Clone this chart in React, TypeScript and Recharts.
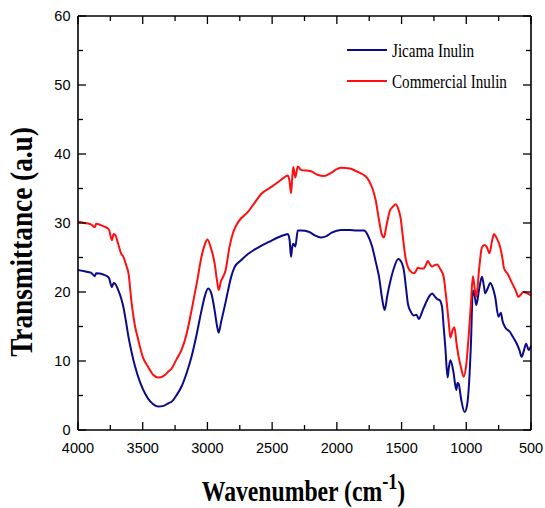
import { LineChart, Line, XAxis, YAxis } from "recharts";

// wavenumber (cm-1) and transmittance readings
const jicamaWn = [
  4000, 3950, 3900, 3870, 3860, 3800, 3777, 3760, 3738, 3725, 3713, 3690, 3665, 3649, 3630, 3610,
  3585, 3559, 3520, 3482, 3440, 3400, 3380, 3340, 3300, 3277, 3240, 3200, 3160, 3123, 3085, 3046,
  3020, 2995, 2970, 2944, 2925, 2913, 2895, 2879, 2860, 2841, 2815, 2790, 2740, 2687, 2640, 2585,
  2520, 2456, 2400, 2379, 2365, 2354, 2345, 2336, 2321, 2302, 2277, 2213, 2170, 2123, 2080, 2040,
  1969, 1900, 1850, 1790, 1760, 1726, 1700, 1674, 1650, 1631, 1610, 1585, 1555, 1526, 1500, 1482,
  1465, 1451, 1430, 1405, 1385, 1367, 1340, 1315, 1285, 1264, 1245, 1226, 1205, 1187, 1175, 1162,
  1144, 1135, 1123, 1100, 1077, 1068, 1059, 1040, 1013, 995, 982, 965, 949, 935, 923, 900, 879,
  865, 854, 835, 815, 795, 777, 751, 733, 720, 700, 662, 640, 610, 590, 572, 555, 538, 518, 500,
];
const jicamaT = [
  23.2, 23.0, 22.8, 22.3, 22.7, 22.5, 22.3, 22.0, 20.7, 21.3, 21.2, 20.3, 19.0, 17.8, 15.8, 13.5,
  11.2, 9.2, 6.9, 5.3, 4.1, 3.5, 3.4, 3.5, 3.9, 4.1, 5.0, 6.3, 8.3, 10.6, 13.7, 17.3,
  19.4, 20.5, 19.8, 17.3, 15.0, 14.1, 15.6, 16.9, 18.5, 20.2, 22.3, 23.6, 24.6, 25.5, 26.1, 26.7,
  27.3, 27.9, 28.3, 28.4, 27.5, 25.1, 26.5, 27.0, 26.6, 28.9, 28.9, 28.7, 28.2, 27.9, 28.1, 28.6,
  29.0, 29.0, 28.9, 28.9, 28.2, 26.5, 24.4, 22.2, 19.0, 17.4, 19.5, 21.7, 23.7, 24.8, 24.3, 23.1,
  20.5, 18.3, 17.2, 16.6, 16.7, 16.1, 17.2, 18.3, 19.4, 19.8, 19.4, 19.0, 18.8, 17.8, 15.0, 12.0,
  7.6, 9.0, 10.1, 8.5, 5.8, 6.8, 6.7, 4.5, 2.6, 3.5, 5.8, 12.0, 20.2, 19.5, 18.1, 20.5, 22.2,
  21.0, 19.8, 20.5, 21.3, 20.6, 19.3, 16.4, 17.0, 15.8, 14.9, 14.2, 13.5, 12.5, 11.6, 10.6, 11.5, 12.5, 11.6, 12.2,
];

const commercialWn = [
  4000, 3950, 3900, 3870, 3860, 3800, 3777, 3760, 3738, 3725, 3713, 3690, 3665, 3649, 3630, 3610,
  3585, 3559, 3540, 3500, 3460, 3420, 3380, 3340, 3300, 3277, 3240, 3200, 3160, 3123, 3080, 3046,
  3020, 3000, 2975, 2944, 2925, 2913, 2895, 2879, 2860, 2830, 2800, 2760, 2687, 2640, 2585, 2500,
  2456, 2400, 2379, 2365, 2354, 2345, 2336, 2321, 2302, 2277, 2200, 2150, 2097, 2050, 2000, 1969,
  1900, 1850, 1815, 1780, 1751, 1725, 1700, 1675, 1655, 1636, 1620, 1590, 1565, 1546, 1525, 1508,
  1490, 1470, 1451, 1430, 1405, 1390, 1374, 1350, 1331, 1310, 1298, 1280, 1264, 1245, 1226, 1200,
  1175, 1160, 1150, 1135, 1123, 1105, 1092, 1075, 1059, 1040, 1020, 1000, 982, 965, 949, 935, 923,
  900, 879, 860, 841, 821, 800, 785, 765, 738, 720, 708, 680, 649, 620, 597, 580, 559, 530, 500,
];
const commercialT = [
  30.2, 30.0, 29.8, 29.4, 29.9, 29.5, 29.3, 29.0, 27.5, 28.4, 28.3, 27.0, 25.5, 25.1, 24.0, 22.7,
  18.3, 15.0, 13.5, 10.6, 9.2, 8.0, 7.6, 7.8, 8.5, 8.9, 10.2, 11.6, 14.0, 17.3, 21.5, 25.1,
  26.9, 27.6, 26.5, 24.1, 21.5, 20.3, 21.6, 22.2, 23.1, 26.5, 28.7, 30.2, 31.6, 32.8, 34.2, 35.3,
  35.9, 36.7, 36.9, 36.0, 34.3, 36.5, 38.1, 36.6, 38.2, 37.7, 37.5, 37.0, 36.8, 37.2, 37.8, 38.0,
  37.9, 37.5, 37.2, 36.8, 36.1, 35.0, 33.3, 30.5, 28.5, 27.9, 29.3, 31.8, 32.4, 32.7, 32.0, 30.8,
  28.0, 25.0, 23.6, 23.0, 22.7, 23.0, 23.5, 23.4, 23.4, 24.0, 24.5, 24.0, 23.7, 23.9, 24.0, 23.3,
  22.2, 20.0, 18.3, 15.5, 13.4, 14.5, 14.9, 12.5, 10.6, 9.0, 7.7, 9.5, 13.5, 18.0, 22.3, 20.5, 19.3,
  23.5, 26.5, 26.8, 26.5, 25.6, 27.5, 28.4, 27.8, 26.5, 24.8, 23.4, 22.6, 21.4, 20.3, 19.3, 19.6, 20.0, 19.8, 19.5,
];

const xTicks = [4000, 3750, 3500, 3250, 3000, 2750, 2500, 2250, 2000, 1750, 1500, 1250, 1000, 750, 500];
const yTicks = [0, 5, 10, 15, 20, 25, 30, 35, 40, 45, 50, 55, 60];

const jicamaData = jicamaWn.map((wn, i) => ({ wn, t: jicamaT[i] }));
const commercialData = commercialWn.map((wn, i) => ({ wn, t: commercialT[i] }));

const BLUE = "#0b0b8a";
const RED = "#ff1010";
const tickFont = "'Liberation Sans', Arial, sans-serif";
const serif = "'Liberation Serif', 'Times New Roman', serif";

const BottomTick = ({ x, y, payload }: any) => {
  const major = payload.value % 500 === 0;
  return (
    <g>
      <line x1={x} x2={x} y1={y} y2={y - (major ? 8 : 5)} stroke="#000" strokeWidth={1.3} />
      {major && (
        <text x={x} y={y + 23} textAnchor="middle" fontSize={14.5} fontFamily={tickFont} fill="#000">
          {payload.value}
        </text>
      )}
    </g>
  );
};

const TopTick = ({ x, y, payload }: any) => {
  const major = payload.value % 500 === 0;
  return <line x1={x} x2={x} y1={y} y2={y + (major ? 8 : 5)} stroke="#000" strokeWidth={1.3} />;
};

const LeftTick = ({ x, y, payload }: any) => {
  const major = payload.value % 10 === 0;
  return (
    <g>
      <line x1={x} x2={x + (major ? 8 : 5)} y1={y} y2={y} stroke="#000" strokeWidth={1.3} />
      {major && (
        <text x={x - 7.5} y={y + 5} textAnchor="end" fontSize={14.5} fontFamily={tickFont} fill="#000">
          {payload.value}
        </text>
      )}
    </g>
  );
};

const RightTick = ({ x, y, payload }: any) => {
  const major = payload.value % 10 === 0;
  return <line x1={x} x2={x - (major ? 8 : 5)} y1={y} y2={y} stroke="#000" strokeWidth={1.3} />;
};

const legendItems = [
  { name: "Jicama Inulin", color: BLUE },
  { name: "Commercial Inulin", color: RED },
];

export default function App() {
  return (
    <div style={{ position: "absolute", left: 0, top: 0, width: 545, height: 508, background: "#fff" }}>
      <LineChart width={545} height={508} margin={{ top: 15, right: 13, left: 0, bottom: 0 }}>
        <XAxis
          dataKey="wn"
          type="number"
          domain={[500, 4000]}
          reversed
          ticks={xTicks}
          interval={0}
          tickSize={0}
          tickMargin={0}
          tick={<BottomTick />}
          height={78}
          axisLine={{ stroke: "#000", strokeWidth: 1.6 }}
          allowDuplicatedCategory={false}
          label={{
            content: ({ viewBox }: any) => (
              <text
                transform={`translate(${viewBox.x + viewBox.width / 2 - 1} 501) scale(0.79 1)`}
                textAnchor="middle"
                fontFamily={serif}
                fontWeight="bold"
                fontSize={30}
                fill="#000"
              >
                <tspan>Wavenumber (cm</tspan>
                <tspan dy={-12} fontSize={23}>-1</tspan>
                <tspan dy={12}>)</tspan>
              </text>
            ),
          }}
        />
        <XAxis
          xAxisId="top"
          orientation="top"
          dataKey="wn"
          type="number"
          domain={[500, 4000]}
          reversed
          ticks={xTicks}
          interval={0}
          tickSize={0}
          tickMargin={0}
          tick={<TopTick />}
          height={1}
          axisLine={{ stroke: "#000", strokeWidth: 1.6 }}
          allowDuplicatedCategory={false}
        />
        <YAxis
          type="number"
          domain={[0, 60]}
          ticks={yTicks}
          interval={0}
          tickSize={0}
          tickMargin={0}
          tick={<LeftTick />}
          width={78}
          axisLine={{ stroke: "#000", strokeWidth: 1.6 }}
          label={{
            content: () => (
              <text
                transform="translate(32 242) rotate(-90) scale(0.88 1)"
                textAnchor="middle"
                fontFamily={serif}
                fontWeight="bold"
                fontSize={31}
                fill="#000"
              >
                Transmittance (a.u)
              </text>
            ),
          }}
        />
        <YAxis
          yAxisId="right"
          orientation="right"
          type="number"
          domain={[0, 60]}
          ticks={yTicks}
          interval={0}
          tickSize={0}
          tickMargin={0}
          tick={<RightTick />}
          width={1}
          axisLine={{ stroke: "#000", strokeWidth: 1.6 }}
        />
        <Line
          data={jicamaData}
          dataKey="t"
          name="Jicama Inulin"
          type="monotone"
          stroke={BLUE}
          strokeWidth={2}
          dot={false}
          isAnimationActive={false}
        />
        <Line
          data={commercialData}
          xAxisId="top"
          yAxisId="right"
          dataKey="t"
          name="Commercial Inulin"
          type="monotone"
          stroke={RED}
          strokeWidth={2}
          dot={false}
          isAnimationActive={false}
        />
      </LineChart>
      <svg
        width={200}
        height={70}
        style={{ position: "absolute", left: 330, top: 30, overflow: "visible" }}
      >
        {legendItems.map((s, i) => (
          <g key={s.name}>
            <line x1={17} x2={57} y1={20 + i * 31} y2={20 + i * 31} stroke={s.color} strokeWidth={2.2} />
            <text
              transform={`translate(62 ${27.3 + i * 31}) scale(0.82 1)`}
              fontFamily={serif}
              fontSize={18.5}
              fill="#000"
            >
              {s.name}
            </text>
          </g>
        ))}
      </svg>
    </div>
  );
}
